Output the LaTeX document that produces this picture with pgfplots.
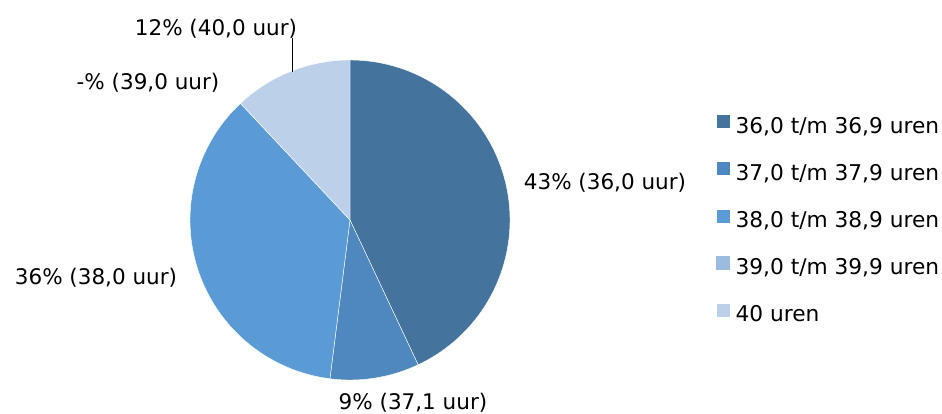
\documentclass[border=0pt]{standalone}
\usepackage{pgfplots}
\pgfplotsset{compat=1.18}
\usepackage{fontspec}
\setmainfont{DejaVu Sans}
\definecolor{c1}{HTML}{44739E}
\definecolor{c2}{HTML}{4E88BE}
\definecolor{c3}{HTML}{5B9BD5}
\definecolor{c4}{HTML}{9BBBE0}
\definecolor{c5}{HTML}{BDD0EA}
\begin{document}
\begin{tikzpicture}
\begin{axis}[
  scale only axis, width=942pt, height=414pt,
  xmin=0, xmax=942, ymin=0, ymax=414,
  hide axis, clip=false,
  legend style={at={(axis cs:713,302)}, anchor=north west, draw=none, fill=none,
    font=\fontsize{21.7}{26}\selectfont, row sep=24pt,
    nodes={inner sep=0pt, text height=15pt, text depth=4pt},
    column sep=5pt},
  legend cell align=left,
  legend image code/.code={\fill[#1] (0pt,-0.5pt) rectangle (14pt,13.5pt);},
]
% shares (percent): 43, 9, 36, 0, 12 -> clockwise from the top, 3.6 degrees per percent
\addplot[fill=c1, draw=white, line width=0.4pt, domain=-64.8:90, samples=80, variable=\t]
  ({350+160*cos(t)},{194+160*sin(t)}) -- (350,194) -- cycle;
\addlegendentry{36,0 t/m 36,9 uren}
\addplot[fill=c2, draw=white, line width=0.4pt, domain=-97.2:-64.8, samples=30, variable=\t]
  ({350+160*cos(t)},{194+160*sin(t)}) -- (350,194) -- cycle;
\addlegendentry{37,0 t/m 37,9 uren}
\addplot[fill=c3, draw=white, line width=0.4pt, domain=-226.8:-97.2, samples=80, variable=\t]
  ({350+160*cos(t)},{194+160*sin(t)}) -- (350,194) -- cycle;
\addlegendentry{38,0 t/m 38,9 uren}
\addlegendimage{fill=c4, draw=none}
\addlegendentry{39,0 t/m 39,9 uren}
\addplot[fill=c5, draw=white, line width=0.4pt, domain=90:133.2, samples=40, variable=\t]
  ({350+160*cos(t)},{194+160*sin(t)}) -- (350,194) -- cycle;
\addlegendentry{40 uren}
\addplot[black, line width=0.8pt, forget plot] coordinates {(292,342) (292,376)};
\begin{scope}[every node/.style={font=\fontsize{21.5}{25}\selectfont, inner sep=0pt, anchor=base}]
\node at (axis cs:216,378) {12\% (40,0 uur)};
\node at (axis cs:148,324) {-\% (39,0 uur)};
\node at (axis cs:605,224) {43\% (36,0 uur)};
\node at (axis cs:96,129) {36\% (38,0 uur)};
\node at (axis cs:413,4) {9\% (37,1 uur)};
\end{scope}
\end{axis}
\pgfresetboundingbox
\path (current axis.south west) rectangle (current axis.north east);
\end{tikzpicture}
\end{document}
